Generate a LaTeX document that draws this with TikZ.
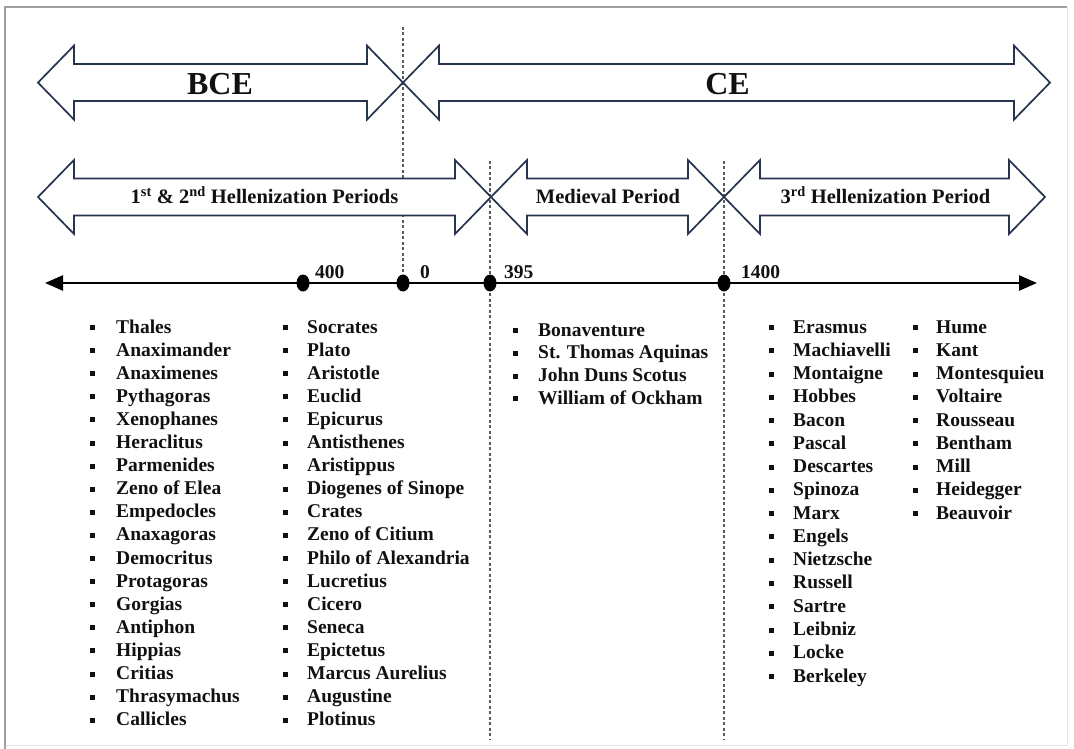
\documentclass[tikz,border=0pt]{standalone}
\usepackage{fontspec}
\setmainfont{Liberation Serif}
\usetikzlibrary{arrows.meta,shapes.geometric}
\definecolor{arrowc}{HTML}{27344F}
\definecolor{dashc}{HTML}{5A5A5A}
\definecolor{txt}{HTML}{111111}
\definecolor{framec}{HTML}{A0A0A0}
\definecolor{framelight}{HTML}{E4E4E4}
\newcommand\perarrow[3]{%
  \draw[period] (#1,#3) -- ({#1+36},{#3-37}) -- ({#1+36},{#3-18.5}) -- ({#2-36},{#3-18.5}) -- ({#2-36},{#3-37}) -- (#2,#3) -- ({#2-36},{#3+37}) -- ({#2-36},{#3+18.5}) -- ({#1+36},{#3+18.5}) -- ({#1+36},{#3+37}) -- cycle;}
\newcommand\bulletbox[1]{\llap{\raisebox{3pt}{\rule{5pt}{5pt}}\hspace{#1pt}}}
\begin{document}
\begin{tikzpicture}[x=1pt,y=-1pt,
  period/.style={fill=white,draw=arrowc,line width=1.7pt,line join=miter},
  divider/.style={draw=dashc,line width=1.5pt,dash pattern=on 3pt off 2.5pt},
  lbl/.style={font=\fontsize{19.5}{22}\selectfont\bfseries,text=txt,inner sep=0pt,anchor=base west},
  era/.style={font=\fontsize{32}{36}\selectfont\bfseries,text=txt,inner sep=0pt,anchor=base},
  pername/.style={font=\fontsize{20.5}{24}\selectfont\bfseries,text=txt,inner sep=0pt,anchor=base},
  dot/.style={ellipse,fill=black,inner sep=0pt,minimum width=13pt,minimum height=17pt},
  timeline/.style={line width=2.5pt,{Triangle[length=18pt,width=15pt]}-{Triangle[length=18pt,width=15pt]}}]
\useasboundingbox (0,0) rectangle (1074,749);
% frame
\draw[framelight,line width=1pt] (1067,7) -- (1067,745) -- (5,745);
\draw[framec,line width=1.5pt] (5,749) -- (5,7) -- (1067,7);
% coordinates
\coordinate (v0top) at (403,27);
\coordinate (v0bot) at (403,283);
\coordinate (v1top) at (490,161);
\coordinate (v1bot) at (490,740);
\coordinate (v2top) at (724,161);
\coordinate (v2bot) at (724,740);
\coordinate (tl) at (45,283);
\coordinate (tr) at (1037,283);
% dividers
\draw[divider] (v0top) -- (v0bot);
\draw[divider] (v1top) -- (v1bot);
\draw[divider] (v2top) -- (v2bot);
% era arrows
\perarrow{38}{403}{82.6}
\perarrow{403}{1050}{82.6}
\node[era] (bce) at (220,95) {BCE};
\node[era] (ce) at (727.5,95) {CE};
% period arrows
\perarrow{38}{491}{197}
\perarrow{491}{724}{197}
\perarrow{724}{1045}{197}
\node[pername] (p1) at (264.5,204) {1\textsuperscript{st} \& 2\textsuperscript{nd} Hellenization Periods};
\node[pername] (p2) at (608,204) {Medieval Period};
\node[pername] (p3) at (885.5,204) {3\textsuperscript{rd} Hellenization Period};
% timeline
\draw[timeline] (tl) -- (tr);
\node[dot] (d400) at (303,283) {};
\node[dot] (d0) at (v0bot) {};
\node[dot] (d395) at (490,283) {};
\node[dot] (d1400) at (724,283) {};
\node[lbl] (y400) at (315,278.5) {400};
\node[lbl] (y0) at (420,278.5) {0};
\node[lbl] (y395) at (504,278.5) {395};
\node[lbl] (y1400) at (741,278.5) {1400};
% lists
\foreach \n [count=\i from 0] in {Thales,Anaximander,Anaximenes,Pythagoras,Xenophanes,Heraclitus,Parmenides,Zeno of Elea,Empedocles,Anaxagoras,Democritus,Protagoras,Gorgias,Antiphon,Hippias,Critias,Thrasymachus,Callicles}
  \node[lbl] (a\i) at (116,{333+\i*23.1}) {\bulletbox{21}\n};
\foreach \n [count=\i from 0] in {Socrates,Plato,Aristotle,Euclid,Epicurus,Antisthenes,Aristippus,Diogenes of Sinope,Crates,Zeno of Citium,Philo of Alexandria,Lucretius,Cicero,Seneca,Epictetus,Marcus Aurelius,Augustine,Plotinus}
  \node[lbl] (b\i) at (307,{333+\i*23.1}) {\bulletbox{19.5}\n};
\foreach \n [count=\i from 0] in {Bonaventure,St. Thomas Aquinas,John Duns Scotus,William of Ockham}
  \node[lbl] (m\i) at (538,{336+\i*22.8}) {\bulletbox{20.5}\n};
\foreach \n [count=\i from 0] in {Erasmus,Machiavelli,Montaigne,Hobbes,Bacon,Pascal,Descartes,Spinoza,Marx,Engels,Nietzsche,Russell,Sartre,Leibniz,Locke,Berkeley}
  \node[lbl] (r\i) at (793,{333+\i*23.27}) {\bulletbox{19.5}\n};
\foreach \n [count=\i from 0] in {Hume,Kant,Montesquieu,Voltaire,Rousseau,Bentham,Mill,Heidegger,Beauvoir}
  \node[lbl] (s\i) at (936,{333+\i*23.25}) {\bulletbox{18}\n};
\end{tikzpicture}
\end{document}
